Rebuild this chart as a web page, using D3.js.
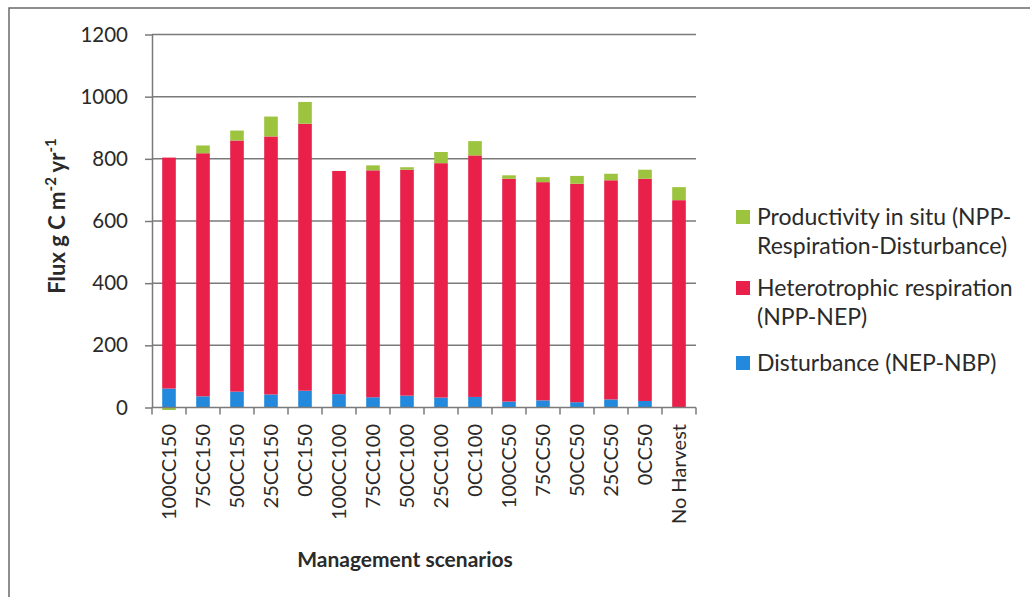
<!DOCTYPE html>
<html>
<head>
<meta charset="utf-8">
<script src="https://cdn.jsdelivr.net/npm/d3@7/dist/d3.min.js"></script>
<style>
  html, body { margin: 0; padding: 0; background: #fff; }
  svg { display: block; }
  text { font-family: Lato, "Open Sans", sans-serif; fill: #2a2a2a; }
</style>
</head>
<body>
<svg id="chart" width="1030" height="597"></svg>
<script>
const categories = ["100CC150","75CC150","50CC150","25CC150","0CC150","100CC100","75CC100","50CC100","25CC100","0CC100","100CC50","75CC50","50CC50","25CC50","0CC50","No Harvest"];
const disturbance = [61,36,51,42,54,43,33,38,32,34,19,23,17,26,21,0];
const heterotrophic = [743,782,808,830,859,718,730,727,754,777,717,702,703,705,715,667];
const productivity = [-8,25,32,64,70,0,16,8,36,46,11,16,25,21,29,42];
const yTicks = [0,200,400,600,800,1000,1200];
const legendLines = [["Productivity in situ (NPP-","Respiration-Disturbance)"],["Heterotrophic respiration","(NPP-NEP)"],["Disturbance (NEP-NBP)"]];

const colors = { dist: "#2289dc", het: "#e8204a", prod: "#9cc43e" };

const rows = categories.map((c, i) => ({ cat: c, dist: disturbance[i], het: heterotrophic[i], prod: productivity[i] }));
const keys = ["dist", "het", "prod"];
const stackGen = d3.stack().keys(keys).offset(d3.stackOffsetDiverging).order(d3.stackOrderNone);
const stacked = stackGen(rows);

const svg = d3.select("#chart");
const pLeft = 152, pRight = 696, pTop = 34.5, pBottom = 407.5;

const x = d3.scaleBand().domain(categories).range([pLeft, pRight]).paddingInner(0.6).paddingOuter(0.3);
const y = d3.scaleLinear().domain([0, 1200]).range([pBottom, pTop]);

// outer frame
svg.append("rect").attr("x", 9).attr("y", 8).attr("width", 1040).attr("height", 620)
  .attr("fill", "none").attr("stroke", "#6a6a6a").attr("stroke-width", 1.5);

// gridlines
svg.append("g").selectAll("line").data(yTicks.filter(d => d > 0)).join("line")
  .attr("x1", pLeft).attr("x2", pRight)
  .attr("y1", d => y(d)).attr("y2", d => y(d))
  .attr("stroke", "#7a7a7a").attr("stroke-width", 1.5);

// bars
const gBars = svg.append("g");
stacked.forEach(s => {
  gBars.append("g").attr("fill", colors[s.key]).selectAll("rect").data(s).join("rect")
    .attr("x", d => x(d.data.cat))
    .attr("width", x.bandwidth())
    .attr("y", d => y(Math.max(d[0], d[1])))
    .attr("height", d => Math.abs(y(d[0]) - y(d[1])));
});

// y axis
const yAxis = svg.append("g").attr("transform", `translate(${pLeft},0)`)
  .call(d3.axisLeft(y).tickValues(yTicks).tickSize(7).tickPadding(17).tickFormat(d3.format("d")));
yAxis.select(".domain").attr("stroke", "#7a7a7a").attr("stroke-width", 1.5).attr("d", `M0.5,${pTop}V${pBottom}`);
yAxis.selectAll(".tick line").attr("stroke", "#7a7a7a").attr("stroke-width", 1.5);
yAxis.selectAll(".tick text").attr("font-size", 20.5).attr("fill", "#2a2a2a").style("font-family", "Lato, sans-serif");

// x axis baseline and ticks
svg.append("line").attr("x1", pLeft).attr("x2", pRight).attr("y1", y(0)).attr("y2", y(0))
  .attr("stroke", "#7a7a7a").attr("stroke-width", 1.5);
const step = x.step();
const boundaries = d3.range(categories.length + 1).map(i => x(categories[0]) - step * 0.3 + i * step);
svg.append("g").selectAll("line").data(boundaries).join("line")
  .attr("x1", d => d).attr("x2", d => d)
  .attr("y1", y(0)).attr("y2", y(0) + 7)
  .attr("stroke", "#7a7a7a").attr("stroke-width", 1.5);

// x labels
svg.append("g").selectAll("text").data(categories).join("text")
  .attr("transform", d => `translate(${x(d) + x.bandwidth() / 2 + 7},424) rotate(-90)`)
  .attr("text-anchor", "end")
  .attr("font-size", 20)
  .text(d => d);

// axis titles
svg.append("text").attr("x", 405).attr("y", 567).attr("text-anchor", "middle")
  .attr("font-size", 21).attr("font-weight", "bold").text("Management scenarios");

const yt = svg.append("text").attr("transform", `translate(65,216) rotate(-90)`)
  .attr("text-anchor", "middle").attr("font-size", 22).attr("font-weight", "bold");
yt.append("tspan").text("Flux g C m");
yt.append("tspan").attr("dy", -9).attr("font-size", 15).text("-2");
yt.append("tspan").attr("dy", 9).text(" yr");
yt.append("tspan").attr("dy", -9).attr("font-size", 15).text("-1");

// legend
const legendKeys = ["prod", "het", "dist"];
const legendY = [217, 288, 363];
const lg = svg.append("g");
legendKeys.forEach((k, i) => {
  lg.append("rect").attr("x", 736).attr("y", legendY[i] - 7).attr("width", 14).attr("height", 14).attr("fill", colors[k]);
  legendLines[i].forEach((line, j) => {
    lg.append("text").attr("x", 757).attr("y", legendY[i] + j * 28.5).attr("dy", "0.35em")
      .attr("font-size", 23).text(line);
  });
});
</script>
</body>
</html>
